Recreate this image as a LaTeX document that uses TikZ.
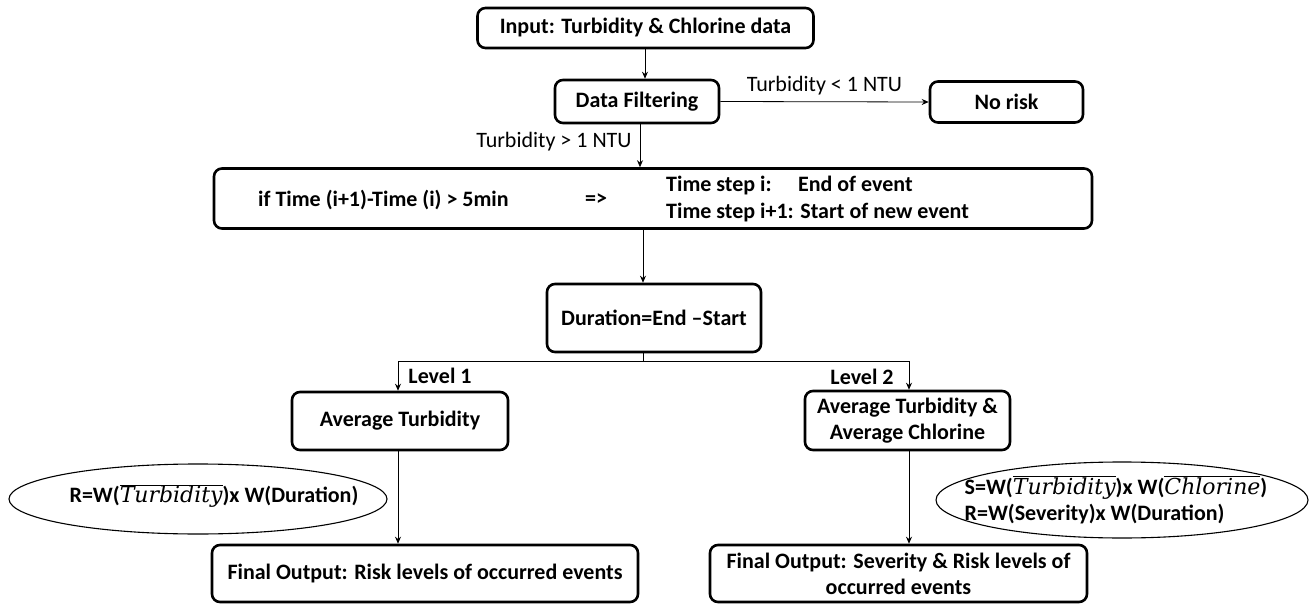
\documentclass[tikz,border=0pt]{standalone}
\usepackage{fontspec}
\setmainfont{Carlito}
\newfontfamily\mathlike{DejaVu Serif}
\usetikzlibrary{arrows.meta,shapes.geometric,calc}
\newcommand{\ovar}[1]{$\overline{\hbox{\mathlike\itshape\mdseries #1}}$}
\tikzset{
  stepbox/.style={draw, line width=2.6pt, rounded corners=8pt, font=\bfseries\fontsize{22}{26}\selectfont, align=center, inner sep=0pt},
  conn/.style={line width=0.8pt, -{Stealth[length=7pt,width=6pt]}},
  plain/.style={line width=0.8pt},
  lbl/.style={font=\fontsize{22}{26}\selectfont, inner sep=0pt},
  blbl/.style={font=\bfseries\fontsize{22}{26}\selectfont, inner sep=0pt},
  oval/.style={draw, ellipse, line width=1.1pt, inner sep=0pt},
}
\begin{document}
\begin{tikzpicture}[x=1pt,y=-1pt]
\useasboundingbox (0,0) rectangle (1310,604);
\node[stepbox, minimum width=336pt, minimum height=40pt] (inp) at (645.5,28) {Input: Turbidity \& Chlorine data};
\node[stepbox, minimum width=164pt, minimum height=43pt] (df) at (637,101.5) {Data Filtering};
\node[stepbox, minimum width=153pt, minimum height=41pt] (nr) at (1006.5,102) {No risk};
\node[stepbox, minimum width=878pt, minimum height=60pt] (big) at (653,198.5) {};
\node[blbl, anchor=west] (cond) at (258,200) {if Time (i+1)-Time (i) > 5min};
\node[blbl] (impl) at (596,200) {=>};
\node[blbl, anchor=west, align=left] (res) at (666,199) {Time step i:\hspace{1.2em}End of event\\[1pt]Time step i+1: Start of new event};
\node[stepbox, minimum width=214pt, minimum height=68pt] (dur) at (654,318) {Duration=End \textendash Start};
\node[stepbox, minimum width=216pt, minimum height=58pt] (avg1) at (400,421) {Average Turbidity};
\node[stepbox, minimum width=205pt, minimum height=59pt] (avg2) at (907.5,420.5) {Average Turbidity \&\\Average Chlorine};
\node[stepbox, minimum width=426pt, minimum height=57pt] (fin1) at (425,573.5) {Final Output: Risk levels of occurred events};
\node[stepbox, minimum width=377pt, minimum height=57pt] (fin2) at (898.5,573.5) {Final Output: Severity \& Risk levels of\\occurred events};
\node[oval, minimum width=378pt, minimum height=70pt] (el1) at (198,499) {};
\node[blbl] (el1t) at (214,496) {R=W(\ovar{Turbidity})x W(Duration)};
\node[oval, minimum width=372pt, minimum height=76pt] (el2) at (1122,500) {};
\node[blbl, align=left] (el2t) at (1116,500) {S=W(\ovar{Turbidity})x W(\ovar{Chlorine})\\R=W(Severity)x W(Duration)};
% trunk coordinates
\coordinate (xa) at (645,0);
\coordinate (xb) at (640,0);
\coordinate (xc) at (643,0);
\coordinate (xl) at (398,0);
\coordinate (xr) at (909,0);
\coordinate (split) at (643,361);
\draw[conn] (inp.south -| xa) -- (df.north -| xa);
\draw[conn] (df.east) -- node[lbl, above=6pt] (lt) {Turbidity < 1 NTU} (nr.west);
\draw[conn] (df.south -| xb) -- node[lbl, left=8pt, pos=0.4] (gt) {Turbidity > 1 NTU} (big.north -| xb);
\draw[conn] (big.south -| xc) -- (dur.north -| xc);
\draw[plain] (dur.south -| xc) -- (split);
\draw[conn] (split) -| (avg1.north -| xl);
\draw[conn] (split) -| (avg2.north -| xr);
\node[blbl] (lv1) at (440,376) {Level 1};
\node[blbl] (lv2) at (862,377) {Level 2};
\draw[conn] (avg1.south -| xl) -- (fin1.north -| xl);
\draw[conn] (avg2.south -| xr) -- (fin2.north -| xr);
\end{tikzpicture}
\end{document}
